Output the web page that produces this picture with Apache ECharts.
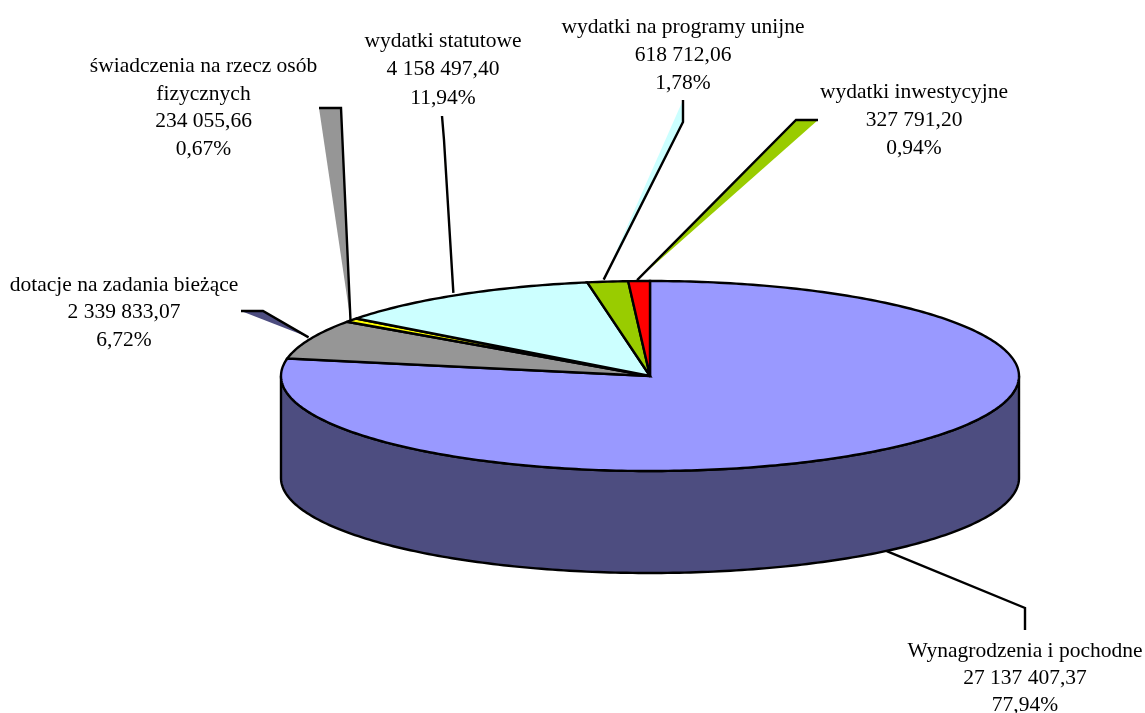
<!DOCTYPE html>
<html>
<head>
<meta charset="utf-8">
<style>html,body{margin:0;padding:0;background:#fff}#c{width:1145px;height:713px}</style>
<script src="https://cdn.jsdelivr.net/npm/echarts@6/dist/echarts.min.js"></script>
</head>
<body>
<div id="c"></div>
<script>
// Data, clockwise from 12 o'clock
const categories = ['Wynagrodzenia i pochodne', 'dotacje na zadania bieżące', 'świadczenia na rzecz osób\nfizycznych', 'wydatki statutowe', 'wydatki na programy unijne', 'wydatki inwestycyjne'];
const amounts = [27137407.37, 2339833.07, 234055.66, 4158497.40, 618712.06, 327791.20];

// Styles
const topColors = ['#9999FF', '#969696', '#FFFF00', '#CCFFFF', '#99CC00', '#FF0000'];
const wallColors = ['#4D4D80', '#4B4B4B', '#808000', '#668080', '#4D6600', '#800000'];
const tailColors = ['none', '#4D4D80', '#969696', '#FFFF00', '#CCFFFF', '#99CC00'];

// Layout (pixels): leader elbow, leader end, label centre and first-line offset
const leaderElbow = [[1025, 608], [263, 311], [341, 108], [444, 140], [683, 122], [796, 120]];
const leaderEnd = [[1025, 630], [241, 311], [319, 108], [442, 116], [683, 100], [818, 120]];
const labelAnchor = [[1025, 638], [124, 271.5], [203.5, 53], [443, 27], [683, 13], [914, 78]];
const labelLineHeight = [27, 27.4, 27.4, 28.5, 28, 28];
const attachNudge = [[1, 0], [-1, -2], [-1, 0], [-5, -2], [-4, -2], [-2, -1]];
const FONT_SIZE = 21.5, STROKE = 2.4;
const ellipse = { left: 281, top: 281, width: 738, height: 190, depth: 102 / 95 };

const total = amounts.reduce((a, b) => a + b, 0);
const ranges = [];
amounts.reduce((acc, v) => { ranges.push([acc, acc + v]); return acc + v; }, 0);

const fmtAmount = v => {
  const [i, d] = v.toFixed(2).split('.');
  return i.replace(/\B(?=(\d{3})+$)/g, ' ') + ',' + d;
};
const fmtPct = v => (v / total * 100).toFixed(2).replace('.', ',') + '%';

// Fraction of the turn -> unit-ellipse point (clockwise from top); y axis is inverted
const unit = f => [Math.sin(f * 2 * Math.PI), -Math.cos(f * 2 * Math.PI)];
const arc = (a, b, api, dy) => {
  const n = Math.max(2, Math.ceil((b - a) * 400)), pts = [];
  for (let i = 0; i <= n; i++) {
    const u = unit(a + (b - a) * i / n);
    pts.push(api.coord([u[0], u[1] + (dy || 0)]));
  }
  return pts;
};

const rows = amounts.map((v, i) => [i, v]);

const wallItem = (params, api) => {
  const i = api.value(0), lo = Math.max(ranges[i][0] / total, 0.25), hi = Math.min(ranges[i][1] / total, 0.75);
  if (hi <= lo) return { type: 'group', children: [] };
  const pts = arc(lo, hi, api, 0).concat(arc(lo, hi, api, ellipse.depth).reverse());
  return { type: 'polygon', shape: { points: pts },
    style: { fill: wallColors[i], stroke: '#000', lineWidth: STROKE, lineJoin: 'round' } };
};

const sliceItem = (params, api) => {
  const i = api.value(0), a = ranges[i][0] / total, b = ranges[i][1] / total;
  const pts = [api.coord([0, 0])].concat(arc(a, b, api, 0));
  return { type: 'polygon', shape: { points: pts },
    style: { fill: topColors[i], stroke: '#000', lineWidth: STROKE, lineJoin: 'miter', miterLimit: 3 } };
};

const leaderItem = (params, api) => {
  const i = api.value(0), mid = (ranges[i][0] + ranges[i][1]) / 2 / total;
  const u = unit(mid), front = u[1] > 0;
  const p = api.coord([u[0], u[1] + (front ? ellipse.depth : 0)]);
  const attach = [p[0] + attachNudge[i][0], p[1] + attachNudge[i][1]];
  const line = [attach, leaderElbow[i], leaderEnd[i]];
  const children = [];
  if (tailColors[i] !== 'none') {
    children.push({ type: 'polygon', shape: { points: line }, style: { fill: tailColors[i] } });
  }
  children.push({ type: 'polyline', shape: { points: line },
    style: { fill: 'none', stroke: '#000', lineWidth: STROKE, lineJoin: 'miter' } });
  const a = labelAnchor[i];
  children.push({ type: 'text', style: {
    x: a[0], y: a[1], align: 'center', verticalAlign: 'top',
    text: categories[i] + '\n' + fmtAmount(api.value(1)) + '\n' + fmtPct(api.value(1)),
    fontFamily: '"Liberation Serif", serif', fontSize: FONT_SIZE, lineHeight: labelLineHeight[i], fill: '#000'
  } });
  return { type: 'group', children };
};

const chart = echarts.init(document.getElementById('c'), null, { renderer: 'canvas' });
const custom = (name, renderItem, z) => ({
  type: 'custom', name, renderItem, data: rows, z, silent: true, clip: false,
  encode: { x: 0, y: 1 }, animation: false
});
chart.setOption({
  animation: false,
  backgroundColor: '#fff',
  tooltip: { show: false },
  grid: { left: ellipse.left, top: ellipse.top, width: ellipse.width, height: ellipse.height, containLabel: false },
  xAxis: { type: 'value', min: -1, max: 1, show: false },
  yAxis: { type: 'value', min: -1, max: 1, inverse: true, show: false },
  series: [custom('wall', wallItem, 1), custom('leader', leaderItem, 2), custom('slice', sliceItem, 3)]
});
</script>
</body>
</html>
